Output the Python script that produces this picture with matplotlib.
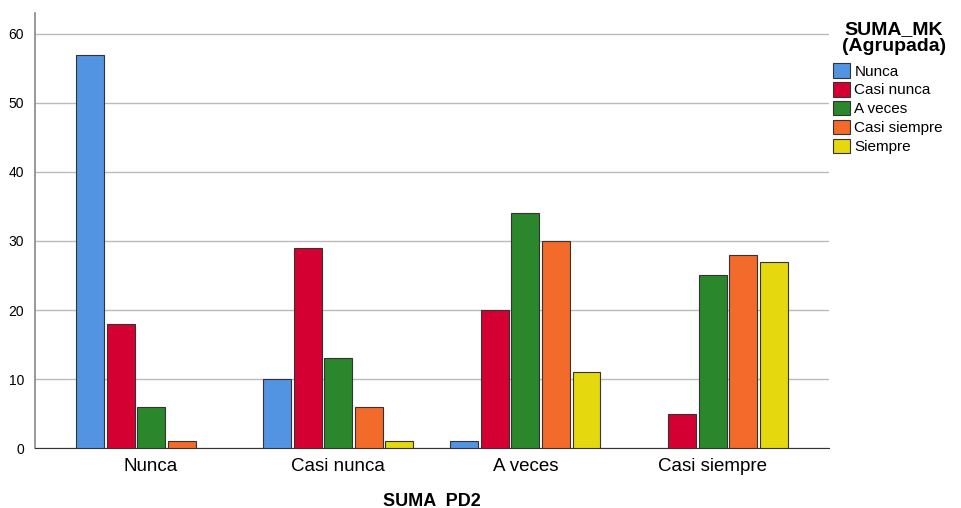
import numpy as np
import matplotlib.pyplot as plt
from matplotlib.patches import Patch

plt.rcParams['font.family'] = ['Liberation Sans', 'DejaVu Sans']

groups = ['Nunca', 'Casi nunca', 'A veces', 'Casi siempre']
series = ['Nunca', 'Casi nunca', 'A veces', 'Casi siempre', 'Siempre']
nunca = [57, 10, 1, 0]
casi_nunca = [18, 29, 20, 5]
a_veces = [6, 13, 34, 25]
casi_siempre = [1, 6, 30, 28]
siempre = [0, 1, 11, 27]
colors = ['#5294E2', '#D50032', '#2B872B', '#F26B2A', '#E5D80F']

values = [nunca, casi_nunca, a_veces, casi_siempre, siempre]

fig = plt.figure(figsize=(9.62, 5.08), dpi=100)
ax = fig.add_axes([0.0364, 0.118, 0.825, 0.856])

x = np.arange(len(groups))
step = 0.163
width = 0.149
for i, vals in enumerate(values):
    vals = np.array(vals, dtype=float)
    pos = x + (i - 2) * step
    mask = vals > 0
    ax.bar(pos[mask], vals[mask], width=width, color=colors[i],
           edgecolor='#333333', linewidth=0.8, zorder=3)

ax.set_xlim(-0.62, 3.62)
ax.set_ylim(0, 63)
ax.set_yticks([0, 10, 20, 30, 40, 50, 60])
ax.set_xticks(x)
ax.set_xticklabels(groups, fontsize=13.5)
ax.tick_params(axis='y', labelsize=10, length=0, pad=8)
ax.tick_params(axis='x', length=0, pad=7)
ax.yaxis.grid(True, color='#BBBBBB', linewidth=1, zorder=0)
ax.set_axisbelow(True)
for s in ['top', 'right']:
    ax.spines[s].set_visible(False)
ax.spines['left'].set_color('#888888')
ax.spines['left'].set_linewidth(1.2)
ax.spines['bottom'].set_color('#333333')
ax.set_xlabel('SUMA  PD2', fontsize=13, fontweight='bold', labelpad=13)

# legend title drawn separately so the gap to the entries matches
fig.text(0.929, 0.958, 'SUMA_MK\n(Agrupada)', ha='center', va='top',
         fontsize=14, fontweight='bold', linespacing=1.0)
handles = [Patch(facecolor=c, edgecolor='#333333', linewidth=0.8) for c in colors]
leg = fig.legend(handles, series, loc='upper left', bbox_to_anchor=(0.866, 0.876),
                 frameon=False, fontsize=11,
                 handlelength=1.1, handleheight=1.1, handletextpad=0.3,
                 labelspacing=0.22, borderaxespad=0, borderpad=0)

fig.savefig('out.png', dpi=100)
